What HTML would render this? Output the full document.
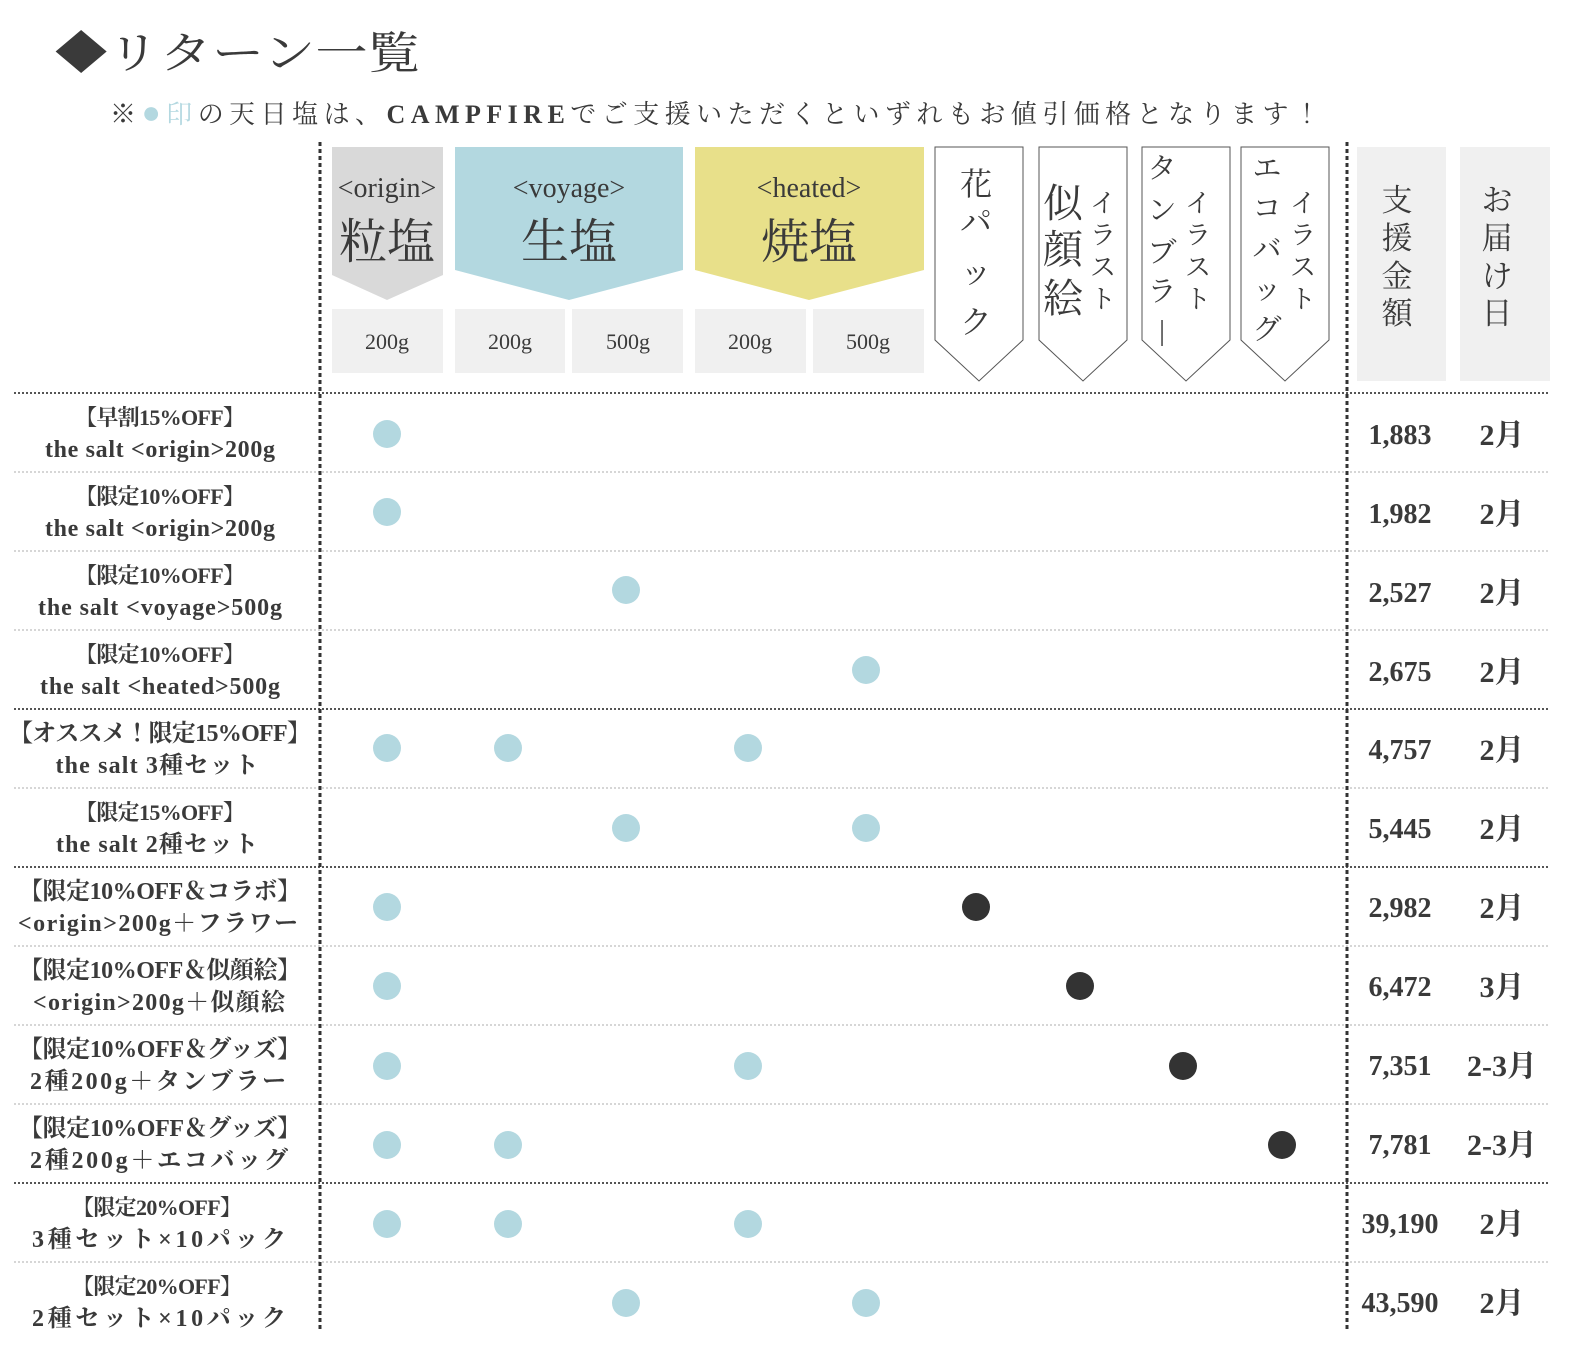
<!DOCTYPE html>
<html><head><meta charset="utf-8"><style>
html,body{margin:0;padding:0;background:#fff;overflow:hidden;}
svg{display:block;}
text{font-family:"Liberation Serif","Noto Serif CJK JP","Noto Serif CJK SC",serif;fill:#3a3a3a;}
</style></head><body>
<svg width="1587" height="1361" viewBox="0 0 1587 1361" xmlns="http://www.w3.org/2000/svg">
<text x="55" y="68" font-size="44" textLength="365" lengthAdjust="spacingAndGlyphs">◆リターン一覧</text>
<text x="110" y="123" font-size="26" textLength="1210" lengthAdjust="spacing"><tspan>※</tspan><tspan fill="#b3d8e0" font-size="32">●</tspan><tspan fill="#b3d8e0">印</tspan><tspan>の天日塩は、</tspan><tspan font-weight="bold">CAMPFIRE</tspan><tspan>でご支援いただくといずれもお値引価格となります！</tspan></text>

<polygon points="332,147 443,147 443,275 387,300 332,275" fill="#d9d9d9"/>
<polygon points="455,147 683,147 683,270 569,300 455,270" fill="#b3d8e0"/>
<polygon points="695,147 924,147 924,270 809,300 695,270" fill="#e8e08a"/>
<text x="387" y="197" font-size="28" text-anchor="middle">&lt;origin&gt;</text>
<text x="569" y="197" font-size="28" text-anchor="middle">&lt;voyage&gt;</text>
<text x="809" y="197" font-size="28" text-anchor="middle">&lt;heated&gt;</text>
<text x="387" y="258" font-size="48" text-anchor="middle">粒塩</text>
<text x="569" y="258" font-size="48" text-anchor="middle">生塩</text>
<text x="809" y="258" font-size="48" text-anchor="middle">焼塩</text>
<g fill="#f0f0f0">
<rect x="332" y="309" width="111" height="64"/>
<rect x="455" y="309" width="110" height="64"/>
<rect x="572" y="309" width="111" height="64"/>
<rect x="695" y="309" width="111" height="64"/>
<rect x="813" y="309" width="111" height="64"/>
<rect x="1357" y="147" width="89" height="234"/>
<rect x="1460" y="147" width="90" height="234"/>
</g>
<g font-size="22" text-anchor="middle">
<text x="387" y="349">200g</text>
<text x="510" y="349">200g</text>
<text x="628" y="349">500g</text>
<text x="750" y="349">200g</text>
<text x="868" y="349">500g</text>
</g>
<g fill="#fff" stroke="#555" stroke-width="1">
<polygon points="935,147 1023,147 1023,340 979,381 935,340"/>
<polygon points="1039,147 1127,147 1127,340 1083,381 1039,340"/>
<polygon points="1142,147 1230,147 1230,340 1186,381 1142,340"/>
<polygon points="1241,147 1329,147 1329,340 1285,381 1241,340"/>
</g>
<g text-anchor="middle" fill="#3a3a3a">
<g font-size="32"><text x="976" y="195">花</text><text x="976" y="233">パ</text><text x="976" y="283">ッ</text><text x="976" y="333">ク</text></g>
<g font-size="40"><text x="1063" y="217">似</text><text x="1063" y="263">顔</text><text x="1063" y="312">絵</text></g>
<g font-size="26"><text x="1103" y="212">イ</text><text x="1103" y="244">ラ</text><text x="1103" y="276">ス</text><text x="1103" y="308">ト</text></g>
<g font-size="29"><text x="1162" y="178">タ</text><text x="1162" y="220">ン</text><text x="1162" y="262">ブ</text><text x="1162" y="301">ラ</text><text x="1162" y="340">|</text></g>
<g font-size="26"><text x="1198" y="212">イ</text><text x="1198" y="244">ラ</text><text x="1198" y="276">ス</text><text x="1198" y="308">ト</text></g>
<g font-size="29"><text x="1267" y="178">エ</text><text x="1267" y="218">コ</text><text x="1267" y="259">バ</text><text x="1267" y="299">ッ</text><text x="1267" y="339">グ</text></g>
<g font-size="26"><text x="1303" y="212">イ</text><text x="1303" y="244">ラ</text><text x="1303" y="276">ス</text><text x="1303" y="308">ト</text></g>
<g font-size="31"><text x="1397" y="211">支</text><text x="1397" y="249">援</text><text x="1397" y="287">金</text><text x="1397" y="324">額</text></g>
<g font-size="31"><text x="1497" y="211">お</text><text x="1497" y="249">届</text><text x="1497" y="287">け</text><text x="1497" y="324">日</text></g>
</g>

<g stroke="#c8c8c8" stroke-width="1.5" stroke-dasharray="2,2">
<line x1="14" y1="472" x2="1548" y2="472"/>
<line x1="14" y1="551" x2="1548" y2="551"/>
<line x1="14" y1="630" x2="1548" y2="630"/>
<line x1="14" y1="788" x2="1548" y2="788"/>
<line x1="14" y1="946" x2="1548" y2="946"/>
<line x1="14" y1="1025" x2="1548" y2="1025"/>
<line x1="14" y1="1104" x2="1548" y2="1104"/>
<line x1="14" y1="1262" x2="1548" y2="1262"/>
</g>
<g stroke="#555" stroke-width="2" stroke-dasharray="2,2">
<line x1="14" y1="393" x2="1548" y2="393"/>
<line x1="14" y1="709" x2="1548" y2="709"/>
<line x1="14" y1="867" x2="1548" y2="867"/>
<line x1="14" y1="1183" x2="1548" y2="1183"/>
</g>
<g stroke="#333" stroke-width="3" stroke-dasharray="4,3">
<line x1="320" y1="142" x2="320" y2="1332"/>
<line x1="1347" y1="142" x2="1347" y2="1332"/>
</g>

<g font-weight="bold" font-size="24" text-anchor="middle">
<text x="160" y="425" font-size="22" textLength="170" lengthAdjust="spacing">【早割15%OFF】</text>
<text x="160" y="457" textLength="230" lengthAdjust="spacing">the salt &lt;origin&gt;200g</text>
<text x="160" y="504" font-size="22" textLength="170" lengthAdjust="spacing">【限定10%OFF】</text>
<text x="160" y="536" textLength="230" lengthAdjust="spacing">the salt &lt;origin&gt;200g</text>
<text x="160" y="583" font-size="22" textLength="170" lengthAdjust="spacing">【限定10%OFF】</text>
<text x="160" y="615" textLength="244" lengthAdjust="spacing">the salt &lt;voyage&gt;500g</text>
<text x="160" y="662" font-size="22" textLength="170" lengthAdjust="spacing">【限定10%OFF】</text>
<text x="160" y="694" textLength="240" lengthAdjust="spacing">the salt &lt;heated&gt;500g</text>
<text x="160" y="741" textLength="302" lengthAdjust="spacing">【オススメ！限定15%OFF】</text>
<text x="157" y="773" textLength="203" lengthAdjust="spacing">the salt 3種セット</text>
<text x="160" y="820" font-size="22" textLength="170" lengthAdjust="spacing">【限定15%OFF】</text>
<text x="157" y="852" textLength="202" lengthAdjust="spacing">the salt 2種セット</text>
<text x="160" y="899" textLength="282" lengthAdjust="spacing">【限定10%OFF＆コラボ】</text>
<text x="158" y="931" textLength="280" lengthAdjust="spacing">&lt;origin&gt;200g＋フラワー</text>
<text x="160" y="978" textLength="282" lengthAdjust="spacing">【限定10%OFF＆似顔絵】</text>
<text x="159" y="1010" textLength="252" lengthAdjust="spacing">&lt;origin&gt;200g＋似顔絵</text>
<text x="160" y="1057" textLength="282" lengthAdjust="spacing">【限定10%OFF＆グッズ】</text>
<text x="158" y="1089" textLength="256" lengthAdjust="spacing">2種200g＋タンブラー</text>
<text x="160" y="1136" textLength="282" lengthAdjust="spacing">【限定10%OFF＆グッズ】</text>
<text x="159" y="1168" textLength="258" lengthAdjust="spacing">2種200g＋エコバッグ</text>
<text x="157" y="1215" font-size="22" textLength="170" lengthAdjust="spacing">【限定20%OFF】</text>
<text x="159" y="1247" textLength="254" lengthAdjust="spacing">3種セット×10パック</text>
<text x="157" y="1294" font-size="22" textLength="170" lengthAdjust="spacing">【限定20%OFF】</text>
<text x="159" y="1326" textLength="254" lengthAdjust="spacing">2種セット×10パック</text>
</g>

<g fill="#b3d8e0">
<circle cx="387" cy="434" r="14"/>
<circle cx="387" cy="512" r="14"/>
<circle cx="626" cy="590" r="14"/>
<circle cx="866" cy="670" r="14"/>
<circle cx="387" cy="748" r="14"/><circle cx="508" cy="748" r="14"/><circle cx="748" cy="748" r="14"/>
<circle cx="626" cy="828" r="14"/><circle cx="866" cy="828" r="14"/>
<circle cx="387" cy="907" r="14"/>
<circle cx="387" cy="986" r="14"/>
<circle cx="387" cy="1066" r="14"/><circle cx="748" cy="1066" r="14"/>
<circle cx="387" cy="1145" r="14"/><circle cx="508" cy="1145" r="14"/>
<circle cx="387" cy="1224" r="14"/><circle cx="508" cy="1224" r="14"/><circle cx="748" cy="1224" r="14"/>
<circle cx="626" cy="1303" r="14"/><circle cx="866" cy="1303" r="14"/>
</g>
<g fill="#333">
<circle cx="976" cy="907" r="14"/>
<circle cx="1080" cy="986" r="14"/>
<circle cx="1183" cy="1066" r="14"/>
<circle cx="1282" cy="1145" r="14"/>
</g>

<g font-weight="bold" font-size="28" text-anchor="middle">
<text x="1400" y="444">1,883</text>
<text x="1400" y="523">1,982</text>
<text x="1400" y="602">2,527</text>
<text x="1400" y="681">2,675</text>
<text x="1400" y="759">4,757</text>
<text x="1400" y="838">5,445</text>
<text x="1400" y="917">2,982</text>
<text x="1400" y="996">6,472</text>
<text x="1400" y="1075">7,351</text>
<text x="1400" y="1154">7,781</text>
<text x="1400" y="1233">39,190</text>
<text x="1400" y="1312">43,590</text>
</g>
<g font-size="30" text-anchor="middle" font-weight="bold">
<text x="1502" y="445">2月</text>
<text x="1502" y="524">2月</text>
<text x="1502" y="603">2月</text>
<text x="1502" y="682">2月</text>
<text x="1502" y="760">2月</text>
<text x="1502" y="839">2月</text>
<text x="1502" y="918">2月</text>
<text x="1502" y="997">3月</text>
<text x="1502" y="1076">2-3月</text>
<text x="1502" y="1155">2-3月</text>
<text x="1502" y="1234">2月</text>
<text x="1502" y="1313">2月</text>
</g>
</svg>
</body></html>
